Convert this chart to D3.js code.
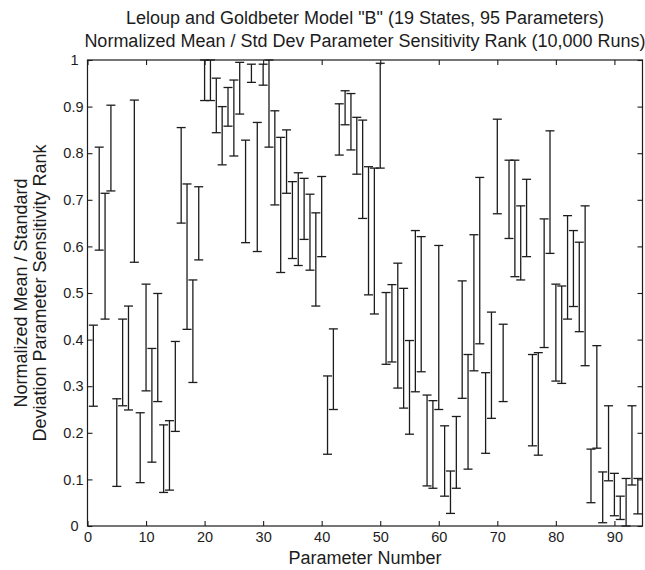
<!DOCTYPE html>
<html>
<head>
<meta charset="utf-8">
<script src="https://cdn.jsdelivr.net/npm/d3@7"></script>
<style>
  html, body { margin: 0; padding: 0; background: #fff; }
  svg { display: block; font-family: "Liberation Sans", Arial, Helvetica, sans-serif; }
</style>
</head>
<body>
<svg id="chart" width="645" height="570"></svg>
<script>
// ---- Data ----
const titleLines = ['Leloup and Goldbeter Model "B" (19 States, 95 Parameters)',
                    'Normalized Mean / Std Dev Parameter Sensitivity Rank (10,000 Runs)'];
const xLabel = "Parameter Number";
const yLabelLines = ["Normalized Mean / Standard", "Deviation Parameter Sensitivity Rank"];

const parameters = d3.range(1, 95); // 1..94
const lowValues = [
  0.257, 0.592, 0.444, 0.719, 0.085, 0.258, 0.249, 0.566, 0.093, 0.290,
  0.137, 0.267, 0.072, 0.077, 0.203, 0.650, 0.422, 0.308, 0.571, 0.913,
  0.913, 0.844, 0.775, 0.858, 0.794, 0.884, 0.608, 0.952, 0.589, 0.946,
  0.813, 0.689, 0.544, 0.714, 0.574, 0.559, 0.615, 0.549, 0.472, 0.578,
  0.154, 0.250, 0.796, 0.861, 0.807, 0.755, 0.660, 0.496, 0.455, 0.768,
  0.347, 0.352, 0.296, 0.253, 0.197, 0.288, 0.331, 0.086, 0.081, 0.250,
  0.064, 0.027, 0.081, 0.274, 0.122, 0.333, 0.391, 0.156, 0.231, 0.670,
  0.267, 0.617, 0.535, 0.528, 0.578, 0.172, 0.152, 0.383, 0.585, 0.311,
  0.306, 0.444, 0.471, 0.417, 0.344, 0.050, 0.167, 0.007, 0.097, 0.022,
  0.014, 0.000, 0.088, 0.026
];
const highValues = [
  0.431, 0.813, 0.714, 0.903, 0.273, 0.444, 0.472, 0.914, 0.243, 0.519,
  0.381, 0.499, 0.217, 0.226, 0.396, 0.855, 0.734, 0.528, 0.728, 1.000,
  1.000, 0.961, 0.900, 0.941, 0.957, 0.995, 0.828, 0.991, 0.866, 0.991,
  1.000, 0.891, 0.834, 0.850, 0.739, 0.758, 0.746, 0.712, 0.672, 0.750,
  0.322, 0.423, 0.906, 0.934, 0.928, 0.877, 0.871, 0.771, 0.768, 0.993,
  0.501, 0.518, 0.564, 0.510, 0.398, 0.634, 0.621, 0.281, 0.269, 0.602,
  0.215, 0.118, 0.235, 0.526, 0.368, 0.625, 0.748, 0.329, 0.459, 0.873,
  0.433, 0.785, 0.785, 0.687, 0.744, 0.368, 0.372, 0.659, 0.848, 0.519,
  0.515, 0.666, 0.634, 0.609, 0.687, 0.165, 0.387, 0.116, 0.258, 0.113,
  0.064, 0.102, 0.258, 0.102
];
const xTicks = [0, 10, 20, 30, 40, 50, 60, 70, 80, 90];
const yTicks = [0, 0.1, 0.2, 0.3, 0.4, 0.5, 0.6, 0.7, 0.8, 0.9, 1];
const yTickLabels = ["0", "0.1", "0.2", "0.3", "0.4", "0.5", "0.6", "0.7", "0.8", "0.9", "1"];

(function () {
// ---- Layout ----
const svg = d3.select("#chart");
const mLeft = 87.5, mRight = 642.5, mTop = 60, mBottom = 526;
const ink = "#1c1c1c";
const tickFont = 14.5, labelFont = 18;

const x = d3.scaleLinear().domain([0, 94.8]).range([mLeft, mRight]);
const y = d3.scaleLinear().domain([0, 1]).range([mBottom, mTop]);

const data = parameters.map((p, i) => ({ p, lo: lowValues[i], hi: highValues[i] }));

// Frame
svg.append("rect")
  .attr("x", mLeft).attr("y", mTop)
  .attr("width", mRight - mLeft).attr("height", mBottom - mTop)
  .attr("fill", "none").attr("stroke", ink).attr("stroke-width", 1.2);

// Axes with inward ticks
const tickLen = 5;
svg.append("g").attr("transform", `translate(0,${mBottom})`)
  .call(d3.axisBottom(x).tickValues(xTicks).tickSizeInner(-tickLen).tickSizeOuter(0).tickPadding(6))
  .call(g => g.select(".domain").remove());
svg.append("g").attr("transform", `translate(0,${mTop})`)
  .call(d3.axisTop(x).tickValues(xTicks).tickSizeInner(-tickLen).tickSizeOuter(0).tickFormat(""))
  .call(g => g.select(".domain").remove());
const yAxisG = svg.append("g").attr("transform", `translate(${mLeft},0)`)
  .call(d3.axisLeft(y).tickValues(yTicks).tickSizeInner(-tickLen).tickSizeOuter(0).tickPadding(4)
        .tickFormat((d, i) => yTickLabels[i]))
  .call(g => g.select(".domain").remove());
// integer labels ("0", "1") sit a little further left, as in the reference
yAxisG.selectAll(".tick text").attr("x", d => (d === 0 || d === 1) ? -9 : -4);
svg.append("g").attr("transform", `translate(${mRight},0)`)
  .call(d3.axisRight(y).tickValues(yTicks).tickSizeInner(-tickLen).tickSizeOuter(0).tickFormat(""))
  .call(g => g.select(".domain").remove());

svg.selectAll(".tick line").attr("stroke", ink).attr("stroke-width", 1.1);
svg.selectAll(".tick text").attr("fill", ink).attr("font-size", tickFont)
  .attr("font-family", "'Liberation Sans', Arial, Helvetica, sans-serif");

// Error bars
const capHalf = 4.5;
const bars = svg.append("g").attr("stroke", ink).attr("stroke-width", 1.3).attr("fill", "none");
bars.selectAll("line.v").data(data).join("line").attr("class", "v")
  .attr("x1", d => x(d.p)).attr("x2", d => x(d.p))
  .attr("y1", d => y(d.lo)).attr("y2", d => y(d.hi));
bars.selectAll("line.lo").data(data).join("line").attr("class", "lo")
  .attr("x1", d => x(d.p) - capHalf).attr("x2", d => x(d.p) + capHalf)
  .attr("y1", d => y(d.lo)).attr("y2", d => y(d.lo));
bars.selectAll("line.hi").data(data).join("line").attr("class", "hi")
  .attr("x1", d => x(d.p) - capHalf).attr("x2", d => x(d.p) + capHalf)
  .attr("y1", d => y(d.hi)).attr("y2", d => y(d.hi));

// Title
const cx = (mLeft + mRight) / 2;
svg.append("g").selectAll("text").data(titleLines).join("text")
  .attr("x", cx).attr("y", (d, i) => 24 + i * 23)
  .attr("text-anchor", "middle").attr("font-size", labelFont).attr("fill", ink)
  .text(d => d);

// X label
svg.append("text").attr("x", cx).attr("y", 564)
  .attr("text-anchor", "middle").attr("font-size", labelFont).attr("fill", ink)
  .text(xLabel);

// Y label
const cy = (mTop + mBottom) / 2;
svg.append("g").selectAll("text").data(yLabelLines).join("text")
  .attr("transform", (d, i) => `translate(${26.5 + i * 19.5},${cy}) rotate(-90)`)
  .attr("text-anchor", "middle").attr("font-size", labelFont).attr("fill", ink)
  .text(d => d);
})();
</script>
</body>
</html>
